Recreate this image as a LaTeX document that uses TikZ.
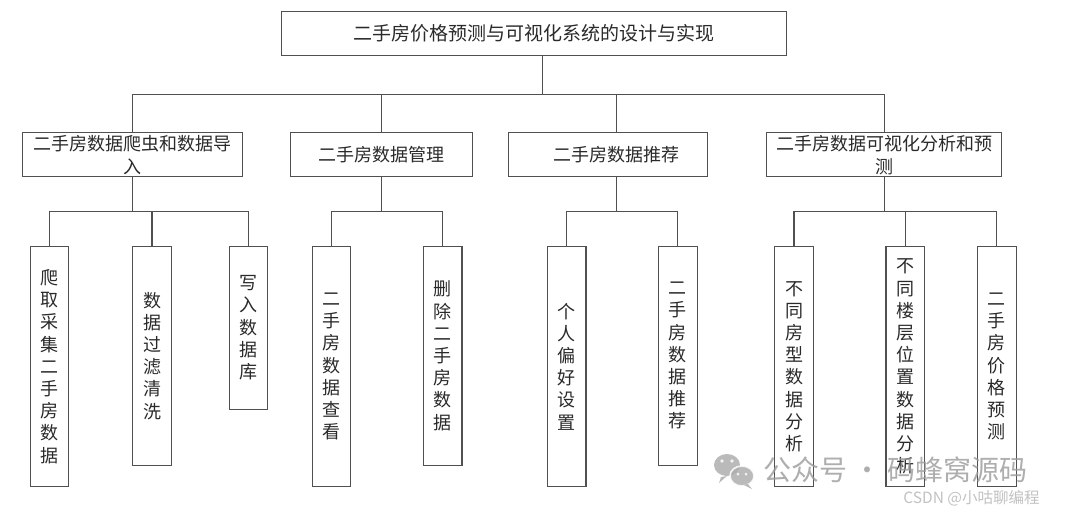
\documentclass[tikz,border=0pt]{standalone}
\usepackage{fontspec}
\newfontfamily\cjk{Noto Sans CJK SC}
\definecolor{linec}{HTML}{505050}
\definecolor{txtc}{HTML}{2A2A2A}
\definecolor{wmc}{HTML}{9A9A9A}
\begin{document}
\begin{tikzpicture}[x=1pt,y=-1pt,
  box/.style={draw=linec, line width=1.1pt, inner sep=0pt, align=center, text=txtc,
    font=\cjk\fontsize{18}{23}\selectfont},
  leaf/.style={box, minimum width=38.5pt, font=\cjk\fontsize{18}{22.2}\selectfont},
  conn/.style={draw=linec, line width=1.1pt},
  wmtext/.style={inner sep=0pt, text=wmc, text opacity=0.8}]
\useasboundingbox (0,0) rectangle (1080,515);
\fill[white] (0,0) rectangle (1080,515);

% root
\node[box, minimum width=505.7pt, minimum height=44pt,
  font=\cjk\fontsize{19}{23}\selectfont] (root) at (533.9,33.7) {二手房价格预测与可视化系统的设计与实现};

% level 1
\node[box, minimum width=220.4pt, minimum height=44pt] (b1) at (132.5,154.7) {二手房数据爬虫和数据导\\入};
\node[box, minimum width=181.7pt, minimum height=44pt] (b2) at (381.2,154.7) {二手房数据管理};
\node[box, minimum width=199pt, minimum height=44pt] (b3) at (607.8,154.7) {\hspace*{17pt}二手房数据推荐};
\node[box, minimum width=235pt, minimum height=44pt] (b4) at (884.2,154.7) {二手房数据可视化分析和预\\测};

% leaves
\node[leaf, minimum height=240.4pt] (l1) at (49.3,366.5) {爬\\取\\采\\集\\二\\手\\房\\数\\据};
\node[leaf, minimum height=219pt] (l2) at (152,355.8) {数\\据\\过\\滤\\清\\洗};
\node[leaf, minimum height=163pt] (l3) at (248.5,327.8) {写\\入\\数\\据\\库};
\node[leaf, minimum height=240.4pt] (l4) at (331.5,366.5) {二\\手\\房\\数\\据\\查\\看};
\node[leaf, minimum height=219pt] (l5) at (442.7,355.8) {删\\除\\二\\手\\房\\数\\据};
\node[leaf, minimum height=240.4pt] (l6) at (566.7,366.5) {个\\人\\偏\\好\\设\\置};
\node[leaf, minimum height=219pt] (l7) at (677.8,355.8) {二\\手\\房\\数\\据\\推\\荐};
\node[leaf, minimum height=240.4pt] (l8) at (794,366.5) {不\\同\\房\\型\\数\\据\\分\\析};
\node[leaf, minimum height=240.4pt] (l9) at (905.2,366.5) {不\\同\\楼\\层\\位\\置\\数\\据\\分\\析};
\node[leaf, minimum height=240.4pt] (l10) at (996.8,366.5) {二\\手\\房\\价\\格\\预\\测};

% connectors level 0 -> 1
\coordinate (j0) at (542.7,94.3);
\coordinate (d3) at (616.3,94.3);
\draw[conn] (root.south -| j0) -- (j0);
\draw[conn] (b1.north) -- (b1.north |- j0) -- (b4.north |- j0) -- (b4.north);
\draw[conn] (b2.north) -- (b2.north |- j0);
\draw[conn] (d3) -- (d3 |- b3.north);

% connectors level 1 -> 2
\coordinate (k1) at (0,211.7);
\draw[conn] (b1.south) -- (b1.south |- k1);
\draw[conn] (l1.north) -- (l1.north |- k1) -- (l3.north |- k1) -- (l3.north);
\draw[conn] (l2.north) -- (l2.north |- k1);

\draw[conn] (b2.south) -- (b2.south |- k1);
\draw[conn] (l4.north) -- (l4.north |- k1) -- (l5.north |- k1) -- (l5.north);

\draw[conn] (d3 |- b3.south) -- (d3 |- k1);
\draw[conn] (l6.north) -- (l6.north |- k1) -- (l7.north |- k1) -- (l7.north);

\draw[conn] (b4.south) -- (b4.south |- k1);
\draw[conn] (l8.north) -- (l8.north |- k1) -- (l10.north |- k1) -- (l10.north);
\draw[conn] (l9.north) -- (l9.north |- k1);

% watermark
\begin{scope}[opacity=0.85]
\fill[wmc!80] (727,465) ellipse [x radius=13pt, y radius=11pt];
\fill[wmc!80] (721,477) -- (719,483) -- (727,476) -- cycle;
\draw[white, line width=1.6pt, fill=wmc!80] (742,476) ellipse [x radius=12pt, y radius=10pt];
\fill[wmc!80] (748,484) -- (752,489) -- (744,485) -- cycle;
\fill[white] (722,461) circle [radius=1.8pt] (732,461) circle [radius=1.8pt];
\fill[white] (738,474) circle [radius=1.5pt] (746,474) circle [radius=1.5pt];
\end{scope}
\node[wmtext, font=\cjk\fontsize{28}{30}\selectfont] (wm1) at (895.5,470) {公众号 · 码蜂窝源码};
\node[wmtext, text=wmc!75, font=\cjk\fontsize{15.5}{18}\selectfont] (wm2) at (971.5,498.5) {CSDN @小咕聊编程};
\end{tikzpicture}
\end{document}
